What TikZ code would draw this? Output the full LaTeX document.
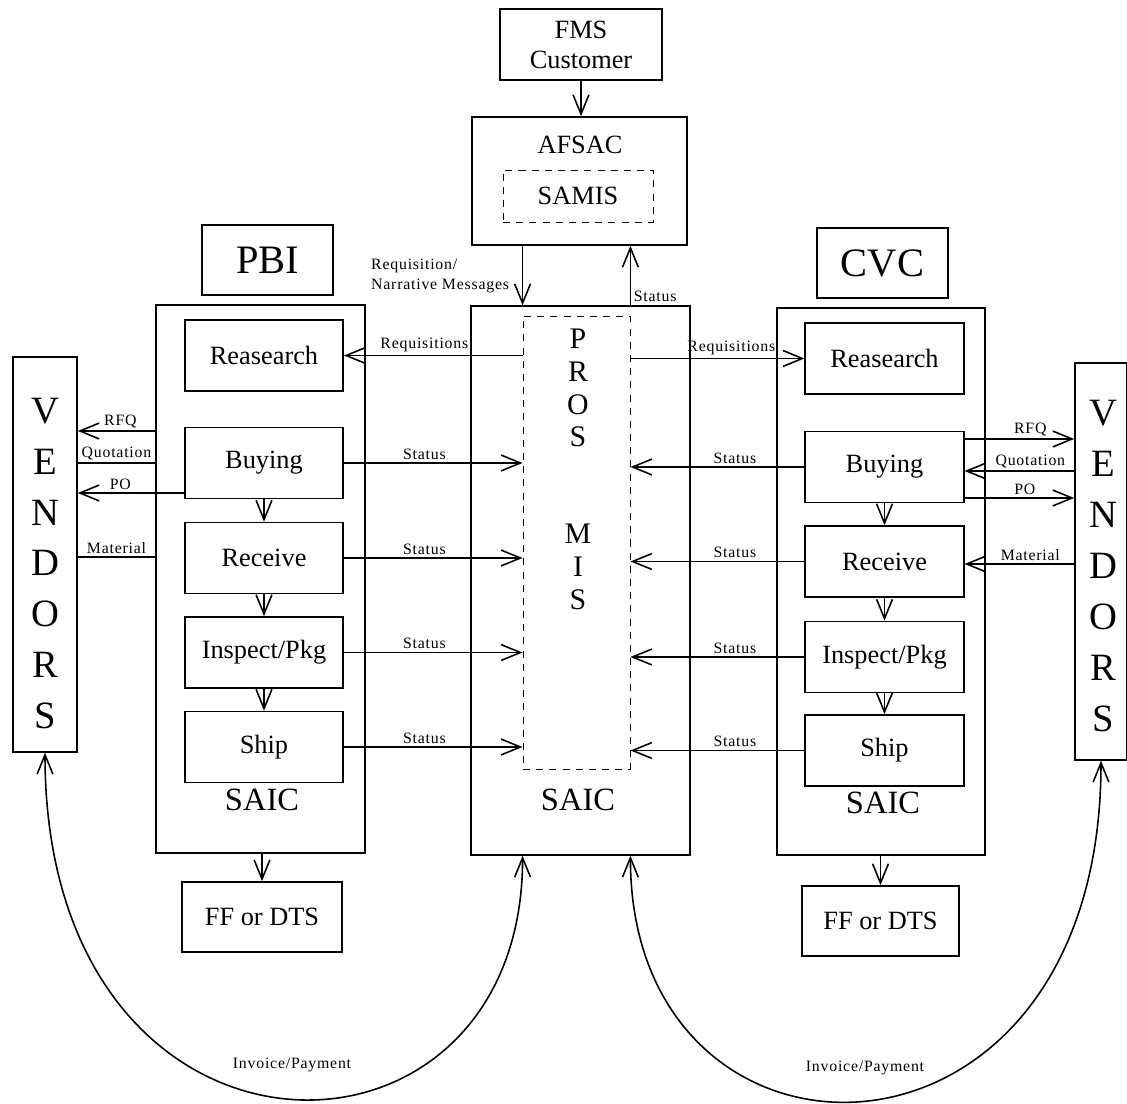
\documentclass[tikz,border=0pt]{standalone}
\usepackage{fontspec}
\setmainfont{Liberation Serif}
\newfontfamily\lblfont[LetterSpace=5]{Liberation Serif}
\usetikzlibrary{arrows.meta}

\begin{document}
\begin{tikzpicture}[x=0.02cm, y=-0.02cm,
  >={Straight Barb[length=11pt,width=9pt]},
  box/.style={draw, line width=0.9pt, inner sep=0pt, font=\fontsize{15}{17}\selectfont},
  stepbox/.style={box, minimum width=3.17cm, minimum height=1.42cm},
  dbox/.style={draw, line width=0.5pt, dash pattern=on 4pt off 3.5pt},
  flow/.style={->, line width=0.9pt},
  lbl/.style={font=\lblfont\fontsize{9}{11}\selectfont, inner sep=1.5pt},
  big/.style={font=\fontsize{23}{25}\selectfont},
  saic/.style={font=\fontsize{18.5}{20}\selectfont}]
 \useasboundingbox (0,0) rectangle (1127,1104);

 % top: customer and AFSAC
 \node [box, minimum width=3.24cm, minimum height=1.42cm, align=center] (fms) at (581,44.5) {FMS\\Customer};
 \node [box, minimum width=4.3cm, minimum height=2.56cm] (afsac) at (579.5,181) {};
 \node [font=\fontsize{15}{17}\selectfont] (afsactxt) at (580,145) {AFSAC};
 \node [dbox, minimum width=3.0cm, minimum height=1.04cm, font=\fontsize{15}{17}\selectfont] (samis) at (578,196) {SAMIS};

 % PROS MIS
 \node [box, minimum width=4.38cm, minimum height=10.98cm] (pros) at (580.5,580.5) {};
 \node [dbox, minimum width=2.14cm, minimum height=9.06cm] (pmis) at (576.5,542.5) {};
 \node [align=center, font=\fontsize{17}{18.7}\selectfont] (prostxt) at (578,388) {P\\R\\O\\S};
 \node [align=center, font=\fontsize{17}{18.7}\selectfont] (mistxt) at (578,567) {M\\I\\S};
 \node [saic] (psaic) at (578,800) {SAIC};

 % PBI side
 \node [box, big, minimum width=2.62cm, minimum height=1.4cm] (pbi) at (267.5,260) {PBI};
 \node [box, minimum width=4.18cm, minimum height=10.96cm] (lsaic) at (260.5,579) {};
 \node [stepbox] (lres) at (264,355.5) {Reasearch};
 \node [stepbox] (lbuy) at (264,463) {Buying};
 \node [stepbox] (lrec) at (264,558) {Receive};
 \node [stepbox] (lins) at (264,652.5) {Inspect/Pkg};
 \node [stepbox] (lship) at (264,747) {Ship};
 \node [saic] (lsaictxt) at (262,800) {SAIC};
 \node [box, minimum width=3.2cm, minimum height=1.4cm] (lff) at (262,917) {FF or DTS};

 % CVC side
 \node [box, big, minimum width=2.62cm, minimum height=1.4cm] (cvc) at (882.5,263) {CVC};
 \node [box, minimum width=4.16cm, minimum height=10.94cm] (rsaic) at (881,581.5) {};
 \node [stepbox] (rres) at (884.5,358.5) {Reasearch};
 \node [stepbox] (rbuy) at (884.5,467) {Buying};
 \node [stepbox] (rrec) at (884.5,561.5) {Receive};
 \node [stepbox] (rins) at (884.5,657) {Inspect/Pkg};
 \node [stepbox] (rship) at (884.5,750.5) {Ship};
 \node [saic] (rsaictxt) at (883,803) {SAIC};
 \node [box, minimum width=3.14cm, minimum height=1.4cm] (rff) at (880.5,921) {FF or DTS};

 % vendors
 \node [box, minimum width=1.28cm, minimum height=7.9cm] (lvend) at (45,554.5) {};
 \node [align=center, font=\fontsize{22}{29}\selectfont] (lvendtxt) at (45,563.5) {V\\E\\N\\D\\O\\R\\S};
 \node [box, minimum width=1.04cm, minimum height=7.94cm] (rvend) at (1101,561.5) {};
 \node [align=center, font=\fontsize{22}{29}\selectfont] (rvendtxt) at (1103,566) {V\\E\\N\\D\\O\\R\\S};

 % top arrows
 \draw [flow] (fms.south) -- (fms.south |- afsac.north);
 \draw [flow] (afsac.south -| pmis.west) -- (pros.north -| pmis.west);
 \draw [flow] (pros.north -| pmis.east) -- node [lbl, right, pos=0.15] {Status} (afsac.south -| pmis.east);
 \node [lbl, align=left, anchor=east] (reqmsg) at (512,276) {Requisition/\\Narrative Messages};

 % requisitions and status
 \draw [flow] (lres.east -| pmis.west) -- node [lbl, above, pos=0.55] {Requisitions} (lres.east);
 \draw [flow] (rres.west -| pmis.east) -- node [lbl, above, pos=0.58] {Requisitions} (rres.west);
 \foreach \s in {lbuy, lrec, lins, lship}
  \draw [flow] (\s.east) -- node [lbl, above, pos=0.45] {Status} (\s.east -| pmis.west);
 \foreach \s in {rbuy, rrec, rins, rship}
  \draw [flow] (\s.west) -- node [lbl, above, pos=0.4] {Status} (\s.west -| pmis.east);

 % steps
 \foreach \a/\b in {lbuy/lrec, lrec/lins, lins/lship, rbuy/rrec, rrec/rins, rins/rship}
  \draw [flow] (\a) -- (\b);
 \draw [flow] (lsaic.south -| lff.north) -- (lff.north);
 \draw [flow] (rsaic.south -| rff.north) -- (rff.north);

 % vendor lines, left
 \draw [flow] (lsaic.west |- 0,431) -- node [lbl, above, pos=0.45] {RFQ} (lvend.east |- 0,431);
 \draw [line width=0.9pt] (lvend.east |- 0,463) -- node [lbl, above] {Quotation} (lsaic.west |- 0,463);
 \draw [flow] (lbuy.west |- 0,493) -- node [lbl, above, pos=0.6] {PO} (lvend.east |- 0,493);
 \draw [line width=0.9pt] (lvend.east |- 0,557) -- node [lbl, above] {Material} (lsaic.west |- 0,557);

 % vendor lines, right
 \draw [flow] (rbuy.east |- 0,439) -- node [lbl, above, pos=0.6] {RFQ} (rvend.west |- 0,439);
 \draw [flow] (rvend.west |- 0,471) -- node [lbl, above, pos=0.4] {Quotation} (rbuy.east |- 0,471);
 \draw [flow] (rbuy.east |- 0,498) -- node [lbl, above, pos=0.55] {PO} (rvend.west |- 0,498);
 \draw [flow] (rvend.west |- 0,564) -- node [lbl, above, pos=0.4] {Material} (rrec.east |- 0,564);

 % invoice / payment
 \draw [flow, <->] (lvend.south) .. controls (45,1196) and (523,1196) .. (pros.south -| pmis.west);
 \draw [flow, <->] (pros.south -| pmis.east) .. controls (630,1198) and (1101,1198) .. (rvend.south);
 \node [lbl] (linv) at (292,1065) {Invoice/Payment};
 \node [lbl] (rinv) at (865,1068) {Invoice/Payment};
\end{tikzpicture}
\end{document}
